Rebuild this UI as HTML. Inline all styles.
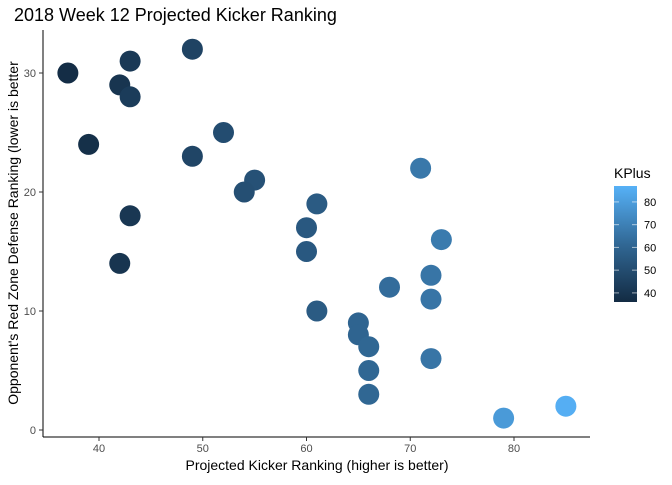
<!DOCTYPE html>
<html><head><meta charset="utf-8"><style>
body{margin:0;background:#fff;font-family:"Liberation Sans",Arial,sans-serif}
svg text{font-family:"Liberation Sans",Arial,sans-serif}
</style></head><body>
<svg id="chart" width="672" height="480" viewBox="0 0 672 480" xmlns="http://www.w3.org/2000/svg">
<defs><linearGradient id="kgrad" x1="0" y1="1" x2="0" y2="0">
<stop offset="0" stop-color="#132B43"/><stop offset="0.5" stop-color="#316895"/><stop offset="1" stop-color="#56B1F7"/></linearGradient></defs>
<text x="14" y="21" font-size="18" fill="#000">2018 Week 12 Projected Kicker Ranking</text>
<g id="marks"></g>
<line x1="43" y1="30" x2="43" y2="437" stroke="#000" stroke-width="1"/>
<line x1="43" y1="437" x2="590" y2="437" stroke="#000" stroke-width="1"/>
<g id="axes"></g>
<text x="317" y="470" font-size="14" text-anchor="middle">Projected Kicker Ranking (higher is better)</text>
<text transform="translate(18,233) rotate(-90)" font-size="14" text-anchor="middle">Opponent's Red Zone Defense Ranking (lower is better</text>
<g>
<text x="614" y="178" font-size="14">KPlus</text>
<rect x="614" y="186" width="23" height="116" fill="url(#kgrad)"/>
<g id="legendticks"></g>
</g>
</svg>
<script>
const xVals=[37,43,49,42,43,52,39,49,71,55,54,61,43,60,73,60,42,72,68,72,61,65,65,66,72,66,66,85,79];
const yVals=[30,31,32,29,28,25,24,23,22,21,20,19,18,17,16,15,14,13,12,11,10,9,8,7,6,5,3,2,1];
const kVals=[37,42,46,40,43,50,38,47,67,52,51,56,41,55,68,55,40,66,63,66,56,60,60,61,66,61,61,86,79];
const xTicks=[40,50,60,70,80];
const yTicks=[0,10,20,30];
const kTicks=[40,50,60,70,80];
const NS="http://www.w3.org/2000/svg";
const kMin=36,kMax=87;
function sx(v){return 99+(v-40)*10.375;}
function sy(v){return 430-v*11.9;}
function ky(v){return 302-(v-kMin)*116/(kMax-kMin);}
function col(k){const t=Math.max(0,Math.min(1,(k-kMin)/(kMax-kMin)));
 const a=[0x13,0x2B,0x43],m=[0x31,0x68,0x95],b=[0x56,0xB1,0xF7];
 let c;if(t<0.5){const u=t*2;c=a.map((x,i)=>x+(m[i]-x)*u);}else{const u=(t-0.5)*2;c=m.map((x,i)=>x+(b[i]-x)*u);}
 return 'rgb('+c.map(Math.round).join(',')+')';}
const g=document.getElementById('marks');
xVals.forEach((x,i)=>{const c=document.createElementNS(NS,'circle');
c.setAttribute('cx',sx(x));c.setAttribute('cy',sy(yVals[i]));c.setAttribute('r',10.5);c.setAttribute('fill',col(kVals[i]));


g.appendChild(c);});
const ax=document.getElementById('axes');
xTicks.forEach(v=>{const l=document.createElementNS(NS,'line');l.setAttribute('x1',sx(v));l.setAttribute('x2',sx(v));l.setAttribute('y1',437);l.setAttribute('y2',441);l.setAttribute('stroke','#333');


ax.appendChild(l);
const t=document.createElementNS(NS,'text');t.setAttribute('x',sx(v));t.setAttribute('y',452);t.setAttribute('font-size','11');t.setAttribute('fill','#4d4d4d');t.setAttribute('text-anchor','middle');t.textContent=v;


ax.appendChild(t);});
yTicks.forEach(v=>{const l=document.createElementNS(NS,'line');l.setAttribute('x1',39);l.setAttribute('x2',43);l.setAttribute('y1',sy(v));l.setAttribute('y2',sy(v));l.setAttribute('stroke','#333');


ax.appendChild(l);
const t=document.createElementNS(NS,'text');t.setAttribute('x',36);t.setAttribute('y',sy(v)+4);t.setAttribute('font-size','11');t.setAttribute('fill','#4d4d4d');t.setAttribute('text-anchor','end');t.textContent=v;


ax.appendChild(t);});
const lt=document.getElementById('legendticks');
kTicks.forEach(v=>{[[614,619],[632,637]].forEach(p=>{const l=document.createElementNS(NS,'line');l.setAttribute('x1',p[0]);l.setAttribute('x2',p[1]);l.setAttribute('y1',ky(v));l.setAttribute('y2',ky(v));l.setAttribute('stroke','#fff');l.setAttribute('stroke-opacity','0.6');


lt.appendChild(l);});
const t=document.createElementNS(NS,'text');t.setAttribute('x',644);t.setAttribute('y',ky(v)+4);t.setAttribute('font-size','11');t.setAttribute('fill','#000');t.textContent=v;


lt.appendChild(t);});
</script>
</body></html>
